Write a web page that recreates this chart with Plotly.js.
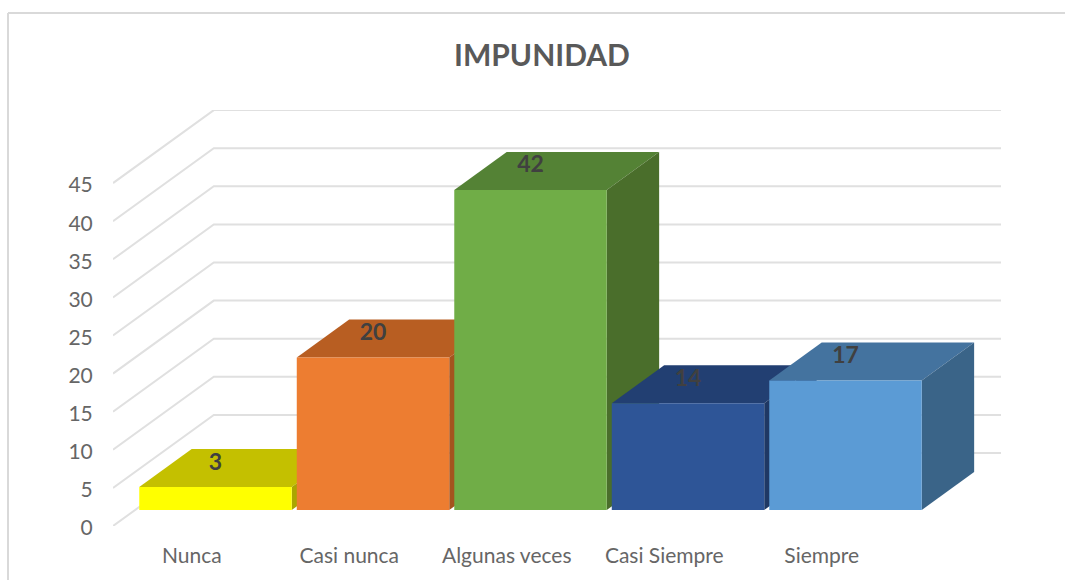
<!DOCTYPE html>
<html>
<head>
<meta charset="utf-8">
<script src="https://cdn.plot.ly/plotly-3.0.1.min.js"></script>
<style>html,body{margin:0;padding:0;background:#fff}</style>
</head>
<body>
<div id="chart" style="width:1065px;height:580px"></div>
<script>
const categories = ['Nunca', 'Casi nunca', 'Algunas veces', 'Casi Siempre', 'Siempre'];
const values = [3, 20, 42, 14, 17];
const yTicks = [0, 5, 10, 15, 20, 25, 30, 35, 40, 45];
const frontColors = ['#ffff00', '#ed7d31', '#70ad47', '#2e5597', '#5b9bd5'];
const topColors = ['#c4c000', '#b85e22', '#548235', '#223f72', '#44739f'];
const sideColors = ['#aaa600', '#a4541e', '#4a6e2b', '#1f3864', '#3a6488'];

// Oblique projection of the depth axis, in axis units
const depthX = 0.64, depthY = 9.58;
const near = 0.22, far = 0.74, barWidth = 0.968, barShift = 0.01;
const grid = '#e0e0e0';
const P = (x, v, d) => [x + d * depthX, v + d * depthY];

function poly(points, color) {
  const pr = points.map(p => P(p[0], p[1], p[2]));
  return {
    type: 'scatter', mode: 'lines', fill: 'toself', fillcolor: color,
    x: pr.map(p => p[0]).concat(pr[0][0]),
    y: pr.map(p => p[1]).concat(pr[0][1]),
    line: {width: 0, color: color}, hoverinfo: 'skip', showlegend: false
  };
}

const traces = [];
// Wall grid lines
yTicks.forEach(t => {
  const a = P(-0.5, t, 0), b = P(-0.5, t, 1), c = P(categories.length - 0.5, t, 1);
  traces.push({
    type: 'scatter', mode: 'lines',
    x: [a[0], b[0], c[0]], y: [a[1], b[1], c[1]],
    line: {color: grid, width: 2}, hoverinfo: 'skip', showlegend: false
  });
});
// Bars, left to right so each hides the one before it
values.forEach((v, i) => {
  const l = i + barShift - barWidth / 2, r = i + barShift + barWidth / 2;
  traces.push(poly([[l, v, near], [r, v, near], [r, v, far], [l, v, far]], topColors[i]));
  traces.push(poly([[r, 0, near], [r, v, near], [r, v, far], [r, 0, far]], sideColors[i]));
  traces.push(poly([[l, 0, near], [r, 0, near], [r, v, near], [l, v, near]], frontColors[i]));
});
// Data labels
traces.push({
  type: 'scatter', mode: 'text',
  x: values.map((v, i) => P(i + barShift, v, near)[0]),
  y: values.map((v, i) => P(i, v + 3.05, near)[1]),
  text: values.map(String),
  textposition: 'middle center',
  textfont: {family: 'Lato, sans-serif', size: 23, color: '#404040', weight: 'bold'},
  hoverinfo: 'skip', showlegend: false, cliponaxis: false
});

const layout = {
  width: 1065, height: 580, autosize: false,
  paper_bgcolor: '#ffffff', plot_bgcolor: 'rgba(0,0,0,0)',
  margin: {l: 113, r: 64, t: 110, b: 54, pad: 0},
  showlegend: false,
  title: {
    text: 'IMPUNIDAD',
    font: {family: 'Lato, sans-serif', size: 30, color: '#595959', weight: 'bold'},
    x: 542 / 1065, xanchor: 'center', xref: 'container',
    y: 1 - 55 / 580, yanchor: 'middle', yref: 'container'
  },
  xaxis: {
    range: [-0.5, -0.5 + 888 / 157.5],
    tickmode: 'array', tickvals: categories.map((c, i) => i), ticktext: categories,
    showgrid: false, zeroline: false, showline: false,
    ticks: 'outside', ticklen: 11, tickcolor: 'rgba(0,0,0,0)',
    tickfont: {family: 'Lato, sans-serif', size: 21, color: '#666666'}
  },
  yaxis: {
    range: [0, 416 / 7.62],
    tickmode: 'array', tickvals: yTicks, ticktext: yTicks.map(String),
    showgrid: false, zeroline: false, showline: false,
    ticks: 'outside', ticklen: 15, ticklabelshift: 2, tickcolor: 'rgba(0,0,0,0)',
    tickfont: {family: 'Lato, sans-serif', size: 21, color: '#666666'}
  },
  shapes: [
    {type: 'line', xref: 'paper', yref: 'paper', x0: -105 / 888, x1: 952 / 888, y0: 1 + 97 / 416, y1: 1 + 97 / 416, line: {color: '#d9d9d9', width: 2}},
    {type: 'line', xref: 'paper', yref: 'paper', x0: -105 / 888, x1: -105 / 888, y0: 1 + 97 / 416, y1: -54 / 416, line: {color: '#d9d9d9', width: 2}}
  ]
};
Plotly.newPlot('chart', traces, layout, {displayModeBar: false, responsive: false});
</script>
</body>
</html>
